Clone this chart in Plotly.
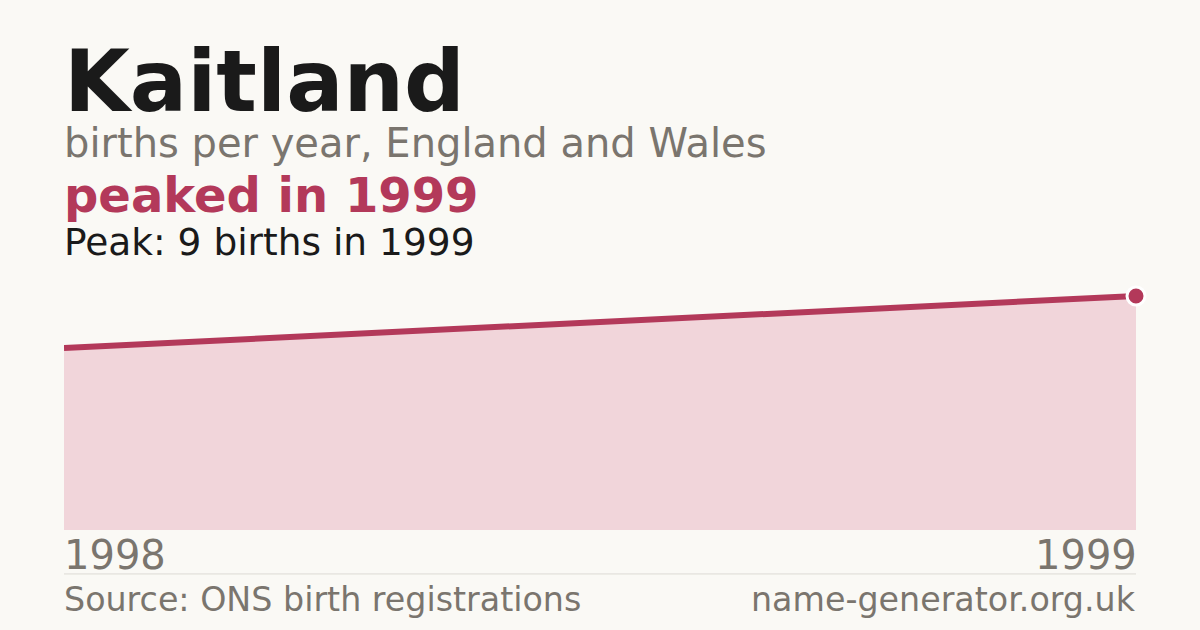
import plotly.graph_objects as go

# data
name = "Kaitland"
years = [1998, 1999]
births = [7, 9]
peak_year = 1999
peak_births = 9

bg = "#faf9f5"
accent = "#b3395a"
fill_col = "#f1d5da"
grey = "#7a756e"
ink = "#1a1a1a"
font = "DejaVu Sans"

fig = go.Figure()

# area under the line
fig.add_trace(go.Scatter(
    x=years, y=births,
    mode="lines",
    fill="tozeroy",
    fillcolor=fill_col,
    line=dict(color=accent, width=6),
    hoverinfo="skip",
    showlegend=False,
))

# peak marker
fig.add_trace(go.Scatter(
    x=[peak_year], y=[peak_births],
    mode="markers",
    marker=dict(size=18, color=accent, line=dict(color="white", width=3)),
    cliponaxis=False,
    showlegend=False,
))

def ann(text, x, y, size, color, bold=False, xanchor="left", xref="paper", xshift=0):
    if bold:
        text = "<b>" + text + "</b>"
    fig.add_annotation(
        text=text, x=x, y=y, xref=xref, yref="paper",
        xanchor=xanchor, yanchor="middle", showarrow=False, xshift=xshift,
        font=dict(family=font, size=size, color=color),
    )

# header text
ann(name, -0.002, 1.726, 85, ink, bold=True)
ann("births per year, England and Wales", -0.002, 1.489, 40, grey)
ann("peaked in " + str(peak_year), -0.002, 1.289, 48, accent, bold=True)
ann(f"Peak: {peak_births} births in {peak_year}", -0.002, 1.108, 37.5, ink)

# year labels at both ends
ann(str(years[0]), years[0], -0.098, 40, grey, xanchor="left", xref="x", xshift=-2)
ann(str(years[-1]), years[-1], -0.098, 40, grey, xanchor="right", xref="x", xshift=3)

# footer
ann("Source: ONS birth registrations", -0.002, -0.268, 33.3, grey)
ann("name-generator.org.uk", 1.002, -0.268, 33.3, grey, xanchor="right")

fig.add_shape(type="line", xref="paper", yref="paper",
              x0=0, x1=1, y0=-0.169, y1=-0.169,
              line=dict(color="#dcdad4", width=1))

fig.update_layout(
    width=1200, height=630,
    margin=dict(l=64, r=64, t=270, b=100),
    paper_bgcolor=bg,
    plot_bgcolor=bg,
    xaxis=dict(range=[years[0], years[-1]], visible=False, fixedrange=True),
    yaxis=dict(range=[0, 10], visible=False, fixedrange=True),
    showlegend=False,
)

fig.write_html("out.html", config={"displayModeBar": False},
               post_script="document.body.style.margin='0';")
